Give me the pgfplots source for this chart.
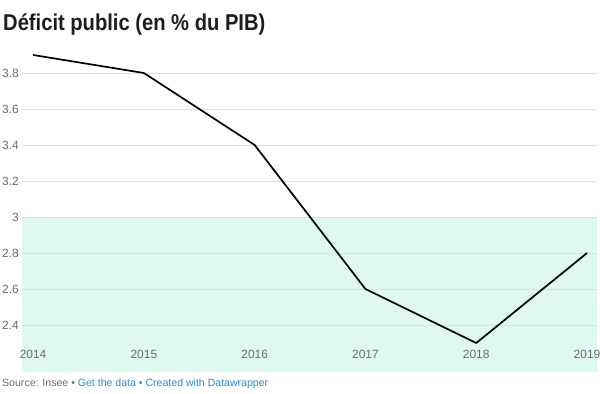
\documentclass[border=0pt]{standalone}
\usepackage{fontspec}
\setmainfont{Liberation Sans}
\newfontfamily\titlefont[FakeStretch=0.88]{Liberation Sans}
\usepackage{pgfplots}
\pgfplotsset{compat=1.18}
\definecolor{bandgreen}{RGB}{224,249,240}
\definecolor{gridgray}{RGB}{222,222,222}
\definecolor{ticklab}{RGB}{108,108,108}
\definecolor{linkblue}{RGB}{38,140,204}
\definecolor{titlecol}{RGB}{29,29,29}
\begin{document}
\begin{tikzpicture}
\begin{axis}[
  name=ax,
  set layers=standard,
  scale only axis,
  width=575bp, height=317bp,
  xmin=2013.9, xmax=2019.09,
  ymin=2.139, ymax=3.9,
  clip=false,
  axis line style={draw=none},
  major tick length=0pt,
  xtick={2014,2015,2016,2017,2018,2019},
  xticklabels={2014,2015,2016,2017,2018,2019},
  ytick={2.4,2.6,2.8,3,3.2,3.4,3.6,3.8},
  yticklabels={2.4,2.6,2.8,3,3.2,3.4,3.6,3.8},
  ymajorgrids,
  grid style={gridgray, line width=0.8bp},
  yticklabel style={font=\fontsize{12}{12}\selectfont, text=ticklab, anchor=east, inner sep=0pt, xshift=-3bp},
  xticklabel style={font=\fontsize{12}{12}\selectfont, text=ticklab, anchor=base, inner sep=0pt, yshift=13.5bp},
]
\addplot[on layer=axis background, fill=bandgreen, draw=none] coordinates {(2013.9,2.139) (2019.09,2.139) (2019.09,3) (2013.9,3)} -- cycle;
\addplot[black, line width=1.7bp, line join=round] coordinates {
(2014,3.9) (2015,3.8) (2016,3.4) (2017,2.6) (2018,2.3) (2019,2.8)};
\end{axis}
\pgfresetboundingbox
\path ([xshift=-22bp,yshift=-22bp]ax.south west) rectangle ([xshift=3bp,yshift=55bp]ax.north east);
\node[anchor=base west, inner sep=0pt, text=titlecol, font=\titlefont\fontsize{23}{23}\selectfont\bfseries] at ([xshift=-19bp,yshift=24bp]ax.north west) {Déficit public (en \% du PIB)};
\node[anchor=base west, inner sep=0pt, font=\fontsize{10.6}{11}\selectfont] at ([xshift=-20bp,yshift=-14bp]ax.south west) {\textcolor{ticklab}{Source: Insee~•~}\textcolor{linkblue}{Get the data~•~Created with Datawrapper}};
\end{tikzpicture}
\end{document}
